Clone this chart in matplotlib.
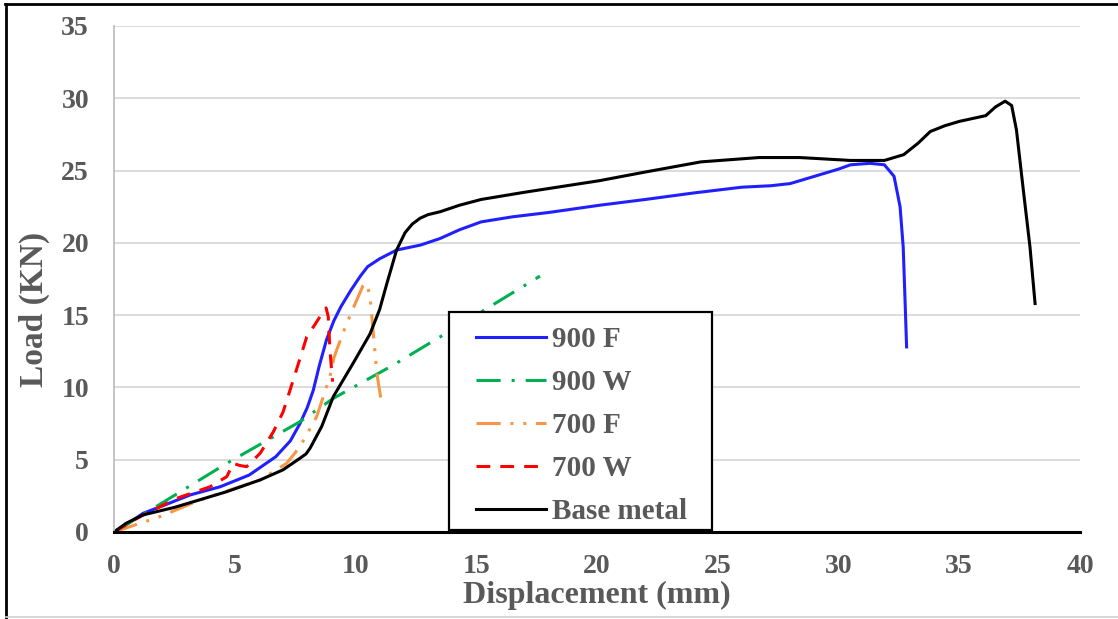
import matplotlib
matplotlib.use('Agg')
import matplotlib.pyplot as plt
from matplotlib.lines import Line2D
from matplotlib.patches import Rectangle

# data (displacement mm, load kN)
x_900F = [0, 0.6, 1.2, 2.0, 3.15, 4.4, 5.6, 6.7, 7.3, 7.7, 8.0, 8.25, 8.5, 8.8, 9.1, 9.4, 9.8,
          10.2, 10.5, 11.0, 11.7, 12.7, 13.5, 14.3, 15.2, 16.5, 18.0, 20.1, 22.0, 24.0, 26.0,
          27.2, 28.0, 29.0, 30.0, 30.5, 31.3, 31.9, 32.3, 32.55, 32.68, 32.75, 32.82]
y_900F = [0, 0.6, 1.29, 1.8, 2.56, 3.13, 3.94, 5.21, 6.3, 7.5, 8.6, 9.8, 11.5, 13.3, 14.6, 15.6, 16.7,
          17.7, 18.35, 18.9, 19.5, 19.85, 20.3, 20.9, 21.45, 21.8, 22.1, 22.6, 23.0, 23.45, 23.85,
          23.95, 24.1, 24.6, 25.1, 25.4, 25.5, 25.4, 24.6, 22.5, 19.7, 16.3, 12.8]

x_900W = [0, 1.63, 4.67, 7.7, 9.08, 11.57, 14.3, 17.64]
y_900W = [0, 1.64, 4.75, 7.63, 9.24, 11.55, 14.3, 17.7]

x_700F = [0, 1.9, 3.56, 6.05, 7.15, 7.7, 8.39, 8.94, 9.1, 9.22, 9.63, 10.04, 10.3, 10.46,
          10.6, 10.74, 10.88, 11.08]
y_700F = [0, 1.06, 2.21, 3.6, 4.75, 5.9, 7.98, 10.74, 12.0, 12.6, 14.4, 16.0, 17.0, 17.2,
          16.3, 13.7, 11.0, 8.9]

x_700W = [0, 1.08, 2.6, 3.98, 4.67, 4.94, 5.2, 5.49, 6.05, 6.6, 7.0, 7.29, 7.7, 7.98, 8.3,
          8.53, 8.78, 8.87, 8.94, 9.05]
y_700W = [0, 1.06, 2.33, 3.13, 3.83, 4.75, 4.6, 4.52, 5.44, 6.94, 8.3, 9.82, 12.0, 13.5, 14.3,
          14.9, 15.5, 14.9, 12.6, 10.4]

x_base = [0, 0.5, 1.2, 2.5, 3.5, 4.67, 6.05, 7.0, 7.7, 7.95, 8.12, 8.6, 9.08, 9.9, 10.6, 11.0,
          11.3, 11.7, 12.05, 12.35, 12.67, 13.0, 13.5, 14.3, 15.2, 17.0, 20.1, 22.0, 24.3, 26.7,
          28.4, 30.5, 31.9, 32.7, 33.3, 33.8, 34.4, 35.0, 36.1, 36.5, 36.9, 37.17, 37.37, 37.65,
          37.93, 38.14]
y_base = [0, 0.6, 1.18, 1.7, 2.2, 2.79, 3.6, 4.3, 5.1, 5.4, 5.8, 7.3, 9.36, 11.67, 13.7, 15.4,
          17.2, 19.5, 20.7, 21.3, 21.7, 21.95, 22.15, 22.6, 23.0, 23.5, 24.3, 24.9, 25.6, 25.9,
          25.9, 25.7, 25.7, 26.1, 26.9, 27.7, 28.1, 28.4, 28.8, 29.4, 29.8, 29.5, 27.8, 23.7,
          19.7, 15.8]

x_ticks = [0, 5, 10, 15, 20, 25, 30, 35, 40]
y_ticks = [0, 5, 10, 15, 20, 25, 30, 35]

txt_col = '#595959'
plt.rcParams['font.family'] = ['Liberation Serif', 'DejaVu Serif']
plt.rcParams['font.weight'] = 'bold'
plt.rcParams['axes.labelweight'] = 'bold'

fig = plt.figure(figsize=(11.18, 6.19), dpi=100)
ax = fig.add_axes([0.102, 0.1406, 0.864, 0.8174])

lw = 2.2
ax.plot(x_900F, y_900F, color='#2020FF', lw=lw, label='900 F')
ax.plot(x_900W, y_900W, color='#00B050', lw=lw, linestyle=(0, (7.9, 3.6, 1, 3.6)), label='900 W')
ax.plot(x_700F, y_700F, color='#F79646', lw=lw,
        linestyle=(0, (7.9, 3.2, 1, 3.2, 1, 3.2)), label='700 F')
ax.plot(x_700W, y_700W, color='#FF0000', lw=lw, linestyle=(0, (4.5, 3.3)), label='700 W')
ax.plot(x_base, y_base, color='black', lw=lw, label='Base metal')

ax.set_xlim(0, 40)
ax.set_ylim(0, 35)
ax.set_xticks(x_ticks)
ax.set_yticks(y_ticks)
ax.grid(axis='y', color='#d9d9d9', lw=1.3)
ax.set_axisbelow(True)
for s in ['top', 'right']:
    ax.spines[s].set_visible(False)
ax.spines['left'].set_color('#bfbfbf')
ax.spines['left'].set_linewidth(1.3)
ax.spines['bottom'].set_color('black')
ax.spines['bottom'].set_linewidth(2.2)
ax.tick_params(length=0, labelsize=20, labelcolor=txt_col)
ax.tick_params(axis='y', pad=18)
ax.tick_params(axis='x', pad=16)
ax.set_xlabel('Displacement (mm)', fontsize=23, color=txt_col, labelpad=1)
ax.set_ylabel('Load (KN)', fontsize=24, color=txt_col)
ax.yaxis.set_label_coords(-0.066, 0.44)

# legend box drawn by hand so its size matches the reference
ax.add_patch(Rectangle((0.3468, 0.004), 0.2722, 0.4308, transform=ax.transAxes,
                       facecolor='white', edgecolor='black', lw=1.6, zorder=4))
leg = ax.legend(loc='lower left', bbox_to_anchor=(0.3747, 0.014), fontsize=21, frameon=False,
                handlelength=2.4, handletextpad=0.2, labelspacing=0.55,
                borderpad=0.0, borderaxespad=0.0)
leg.set_zorder(5)
for t in leg.get_texts():
    t.set_color(txt_col)

# outer frame: black left and top, light grey bottom
fig.add_artist(Line2D([0.0055, 0.0055], [0, 0.993], color='black', lw=2, transform=fig.transFigure))
fig.add_artist(Line2D([0.0045, 1], [0.993, 0.993], color='black', lw=2, transform=fig.transFigure))
fig.add_artist(Line2D([0.0055, 1], [0.003, 0.003], color='#d0d0d0', lw=1.2, transform=fig.transFigure))

fig.savefig('out.png', dpi=100)
